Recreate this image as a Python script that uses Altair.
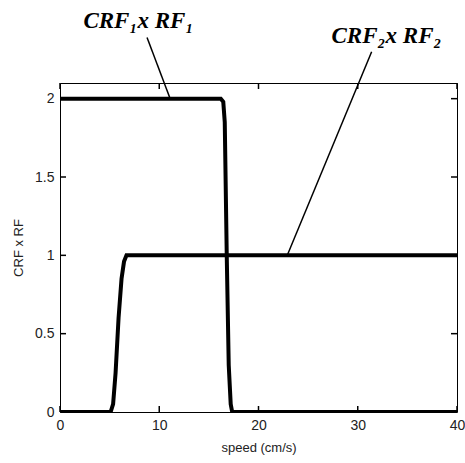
import altair as alt
import pandas as pd

x1 = [0, 16.2, 16.45, 16.6, 16.8, 17.0, 17.2, 17.35, 40]
y1 = [2, 2, 1.98, 1.85, 1.0, 0.3, 0.05, 0, 0]
x2 = [0, 5.1, 5.35, 5.6, 5.9, 6.2, 6.45, 6.7, 7.0, 40]
y2 = [0, 0, 0.05, 0.25, 0.6, 0.85, 0.96, 1.0, 1.0, 1.0]

xticks = [0, 10, 20, 30, 40]
yticks = [0, 0.5, 1, 1.5, 2]

W, H = 397, 329
XD = [0, 40]
YD = [0, 2.1]

df = pd.concat([
    pd.DataFrame({"x": x1, "y": y1, "s": "1"}),
    pd.DataFrame({"x": x2, "y": y2, "s": "2"}),
])

xs = alt.Scale(domain=XD, nice=False, zero=False)
ys = alt.Scale(domain=YD, nice=False, zero=False)

common = dict(grid=False, tickSize=0, labelPadding=6, domain=False, labelFont="Liberation Sans",
              labelFontSize=14, labelColor="#222", titleFont="Liberation Sans",
              titleFontSize=13, titleFontWeight="normal", titleColor="#222",
              format="~g", labelFlush=False)

lines = alt.Chart(df).mark_line(color="black", strokeWidth=4, clip=True).encode(
    x=alt.X("x:Q", scale=xs, axis=alt.Axis(values=xticks, title="speed (cm/s)", titlePadding=9, **common)),
    y=alt.Y("y:Q", scale=ys, axis=alt.Axis(values=yticks, title="CRF x RF", titlePadding=9, **common)),
    detail="s:N",
)

TL = 6
tx = pd.DataFrame({"tv": [float(v) for v in xticks]})
ty = pd.DataFrame({"tv": [float(v) for v in yticks]})
tick_b = alt.Chart(tx).mark_rule(color="black", strokeWidth=1.5).encode(
    x=alt.X("tv:Q", scale=xs), y=alt.value(H - TL), y2=alt.value(H))
tick_t = alt.Chart(tx).mark_rule(color="black", strokeWidth=1.5).encode(
    x=alt.X("tv:Q", scale=xs), y=alt.value(0), y2=alt.value(TL))
tick_l = alt.Chart(ty).mark_rule(color="black", strokeWidth=1.5).encode(
    y=alt.Y("tv:Q", scale=ys), x=alt.value(0), x2=alt.value(TL))
tick_r = alt.Chart(ty).mark_rule(color="black", strokeWidth=1.5).encode(
    y=alt.Y("tv:Q", scale=ys), x=alt.value(W - TL), x2=alt.value(W))

# annotations
ann_lines = pd.DataFrame({
    "x": [8.77, 11.1, 31.4, 22.9],
    "y": [2.39, 2.0, 2.30, 1.0],
    "g": ["a", "a", "b", "b"],
})
leader = alt.Chart(ann_lines).mark_line(color="black", strokeWidth=1.5).encode(
    x=alt.X("x:Q", scale=xs), y=alt.Y("y:Q", scale=ys), detail="g:N")

font = "Liberation Serif"
labels_main = pd.DataFrame({
    "x": [7.9, 32.9],
    "y": [2.451, 2.355],
    "t": ["CRF\u2081x RF\u2081", "CRF\u2082x RF\u2082"],
})
ann_text = alt.Chart(labels_main).mark_text(font=font, fontSize=23, fontWeight="bold",
        fontStyle="italic", color="black", align="center", baseline="alphabetic").encode(
    x=alt.X("x:Q", scale=xs), y=alt.Y("y:Q", scale=ys), text="t:N")

chart = alt.layer(lines, leader, ann_text, tick_b, tick_t, tick_l, tick_r).properties(
    width=W, height=H,
    background="white",
    autosize=alt.AutoSizeParams(type="none"),
    padding={"left": 60, "top": 83, "right": 8, "bottom": 51},
).configure_view(stroke="black", strokeWidth=1)

chart.save("out.html", embed_options={"renderer": "svg", "actions": False})
